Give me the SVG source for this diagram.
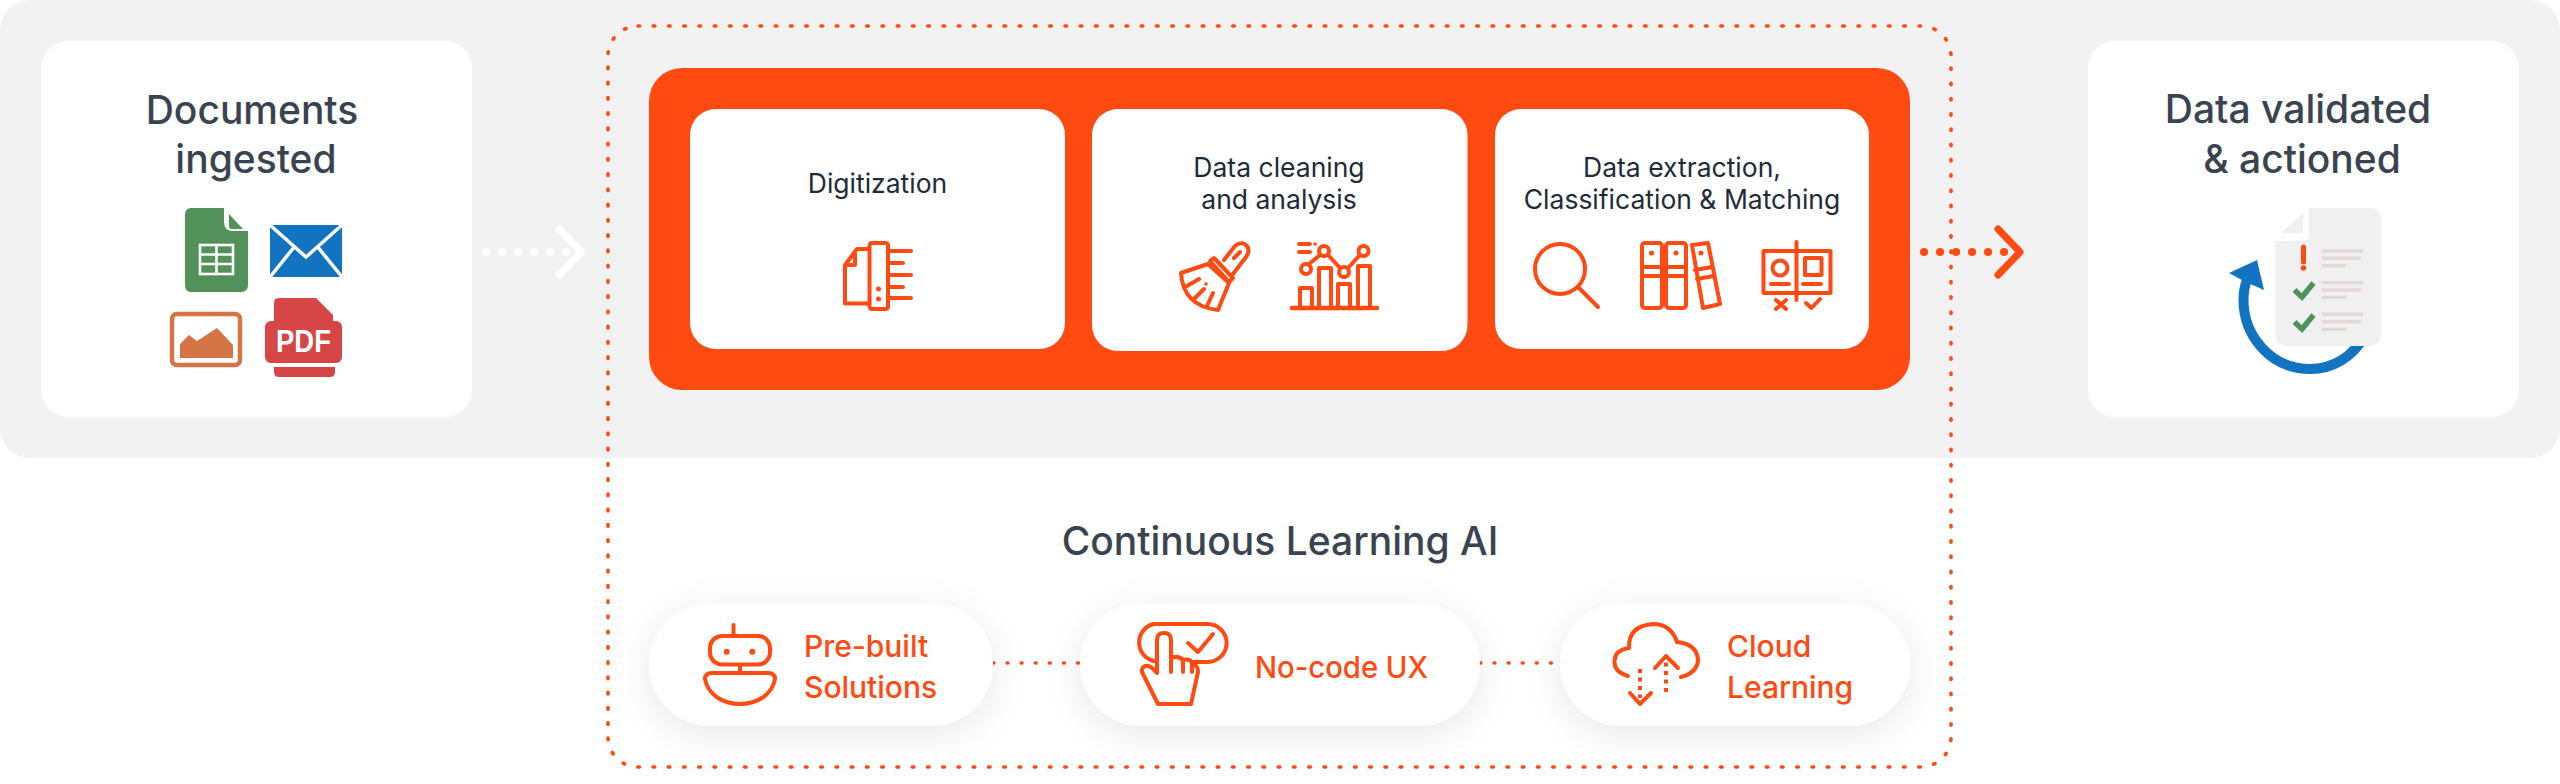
<svg xmlns="http://www.w3.org/2000/svg" width="2560" height="784" viewBox="0 0 2560 784">
<defs>
<filter id="soft" x="-30%" y="-50%" width="160%" height="200%"><feDropShadow dx="0" dy="8" stdDeviation="18" flood-color="#000" flood-opacity="0.09"/></filter>
</defs>
<style>
text{font-family:Inter,"Liberation Sans",sans-serif;text-anchor:middle}
.t{font-size:39px;font-weight:500;fill:#3a4350}
.s{font-size:26.500px;font-weight:400;fill:#1f2a37}
.p{font-size:30px;font-weight:500;fill:#ff4a12;text-anchor:start}
.card{fill:#fff}
.i{fill:none;stroke:#ff4a12;stroke-width:4;stroke-linecap:round;stroke-linejoin:round}
.i5{stroke-width:4.500}
.a{stroke-width:7}
.d{fill:#ff4a12}
.dot{fill:none;stroke:#ff4a12;stroke-linecap:round}
.gl{stroke:#e3d8d6;stroke-width:3.6;fill:none}
.ck{fill:none;stroke:#4f935a;stroke-width:5.500;stroke-linejoin:miter}
</style>
<rect id="band" x="0" y="0" width="2560" height="458" rx="30" fill="#f2f2f2"/>
<g id="learning-frame"><rect x="608" y="26" width="1343" height="741" rx="30" class="dot" stroke-width="3.6" stroke-dasharray="1.6 13.65"/></g>

<g id="connectors">
<path d="M486 252H570" fill="none" stroke="#fff" stroke-width="8" stroke-linecap="round" stroke-dasharray="0.1 15.9"/>
<path d="M559 229L581.500 252L559 275" fill="none" stroke="#fff" stroke-width="7" stroke-linecap="round" stroke-linejoin="round"/>
<path d="M1924 252H2008" class="dot" stroke-width="8" stroke-dasharray="0.1 15.9"/>
<path d="M1998 229L2020 252L1998 275" class="i a"/>
<path d="M993 663H1080" class="dot" stroke-width="3.6" stroke-dasharray="0.8 13.3"/>
<path d="M1480 663H1560" class="dot" stroke-width="3.6" stroke-dasharray="0.8 13.3"/>
</g>

<g id="documents-ingested">
<rect class="card" x="41" y="41" width="431" height="376" rx="27"/>
<text class="t" x="252" y="124">Documents</text>
<text class="t" x="256" y="173">ingested</text>
<path d="M191 208H224V222Q224 231 233 231H248V285Q248 292 241 292H191Q185 292 185 285V215Q185 208 191 208Z" fill="#52925a"/>
<path d="M229 214L243 229H232Q229 229 229 226Z" fill="#52925a"/>
<g fill="none" stroke="#fff" stroke-width="2.6"><rect x="200" y="245" width="33" height="29"/><path d="M216.500 245V274M200 254.500H233M200 264H233"/></g>
<path d="M270 225H342V277H270Z" fill="#1273c0"/>
<path d="M270 225L306 257L342 225M270 277L295 246M342 277L317 246" fill="none" stroke="#fff" stroke-width="3.500"/>
<rect x="172" y="314" width="68" height="51" rx="5" fill="none" stroke="#d57444" stroke-width="4.500"/>
<path d="M180 358V344L189 335L197 341L217 328L233 345V358Z" fill="#d57444"/>
<path d="M274 321V303Q274 298 279 298H316L333 315V321ZM274 367H335V372Q335 377 330 377H279Q274 377 274 372Z" fill="#d64646"/>
<rect x="265" y="321" width="77" height="42" rx="6" fill="#d64646"/>
<text x="303.500" y="352" fill="#fff" textLength="55" lengthAdjust="spacingAndGlyphs" style="font-size:31px;font-weight:700;font-family:'Liberation Sans',sans-serif">PDF</text>
</g>

<g id="processing">
<rect x="649" y="68" width="1261" height="322" rx="33" fill="#ff4a12"/>
</g>

<g id="digitization">
<rect class="card" x="690" y="109" width="375" height="240" rx="26"/>
<text class="s" x="877.500" y="193">Digitization</text>
<g class="i"><rect x="869.500" y="243" width="18.500" height="66" rx="2.500"/><path d="M869 249H857L845 265V303.500H869M855 253V265H845M888 251H911M888 263H903M888 275H911M888 287H903M888 298H911"/></g>
<circle class="d" cx="878.500" cy="289" r="2.500"/><circle class="d" cx="878.500" cy="299" r="2.500"/>
</g>

<g id="data-cleaning">
<rect class="card" x="1092" y="109" width="375.500" height="242" rx="26"/>
<text class="s" x="1279" y="177">Data cleaning</text>
<text class="s" x="1279" y="209">and analysis</text>
<g class="i"><path d="M1224 260L1235 246Q1241 241 1246 245Q1251 250 1246 257L1233 274"/><path d="M1210 261L1214 258L1233 278L1229 282Z"/><path d="M1181 273L1208 264L1229 283L1218 310Q1183 306 1181 273Z"/><path d="M1187 286L1199 279M1195 298L1204 289M1207 306L1213 293M1234 258L1240 252"/></g>
<circle class="d" cx="1206" cy="284" r="1.800"/>
</g>
<g id="chart">
<g class="i"><path d="M1292 308H1377" class="i5"/><path d="M1300 308V288H1312V308M1319 308V268H1331V308M1338 308V284H1350V308M1358 308V266H1370V308"/><path d="M1309 264L1320 255M1328 255L1340 268M1348 268L1360 255"/><circle cx="1306" cy="269" r="5"/><circle cx="1324" cy="251" r="5"/><circle cx="1344" cy="272" r="5"/><circle cx="1363.500" cy="251" r="5"/><path d="M1299 244H1310M1299 252H1310"/></g>
<circle class="d" cx="1315" cy="244" r="1.800"/>
</g>

<g id="data-extraction">
<rect class="card" x="1495" y="109" width="374" height="240" rx="26"/>
<text class="s" x="1682" y="177">Data extraction,</text>
<text class="s" x="1682" y="209">Classification &amp; Matching</text>
<g class="i"><circle cx="1560" cy="269" r="25"/><path d="M1578 287L1598 307"/></g>
<g class="i"><rect x="1642" y="243" width="20" height="65" rx="3"/><rect x="1666" y="243" width="20" height="65" rx="3"/><path d="M1642 267H1662M1642 276H1662M1666 267H1686M1666 276H1686"/><path d="M1692 245L1708 243L1720 304L1703 308Z"/><path d="M1695 270L1712 267M1697 279L1714 276"/>
<rect x="1763.500" y="251" width="67" height="42"/><path d="M1796.500 242V300M1771 284H1789M1803 284H1821"/><circle cx="1780" cy="268" r="7.500"/><rect x="1805" y="258" width="16.500" height="17"/><path d="M1776 300L1786 309M1786 300L1776 309M1806 303L1811.500 308L1820 299"/></g>
<circle class="d" cx="1651.500" cy="253" r="2.500"/><circle class="d" cx="1676" cy="253" r="2.500"/><circle class="d" cx="1701" cy="253" r="2.500"/>
</g>

<g id="data-validated">
<rect class="card" x="2088" y="41" width="431" height="376" rx="27"/>
<text class="t" x="2298" y="123">Data validated</text>
<text class="t" x="2302" y="173">&amp; actioned</text>
<path d="M2366 335C2350 360 2330 369 2310 369C2270 369 2243.500 335 2243.500 300C2243.500 292 2245 285 2247 280" fill="none" stroke="#1273c0" stroke-width="10"/>
<path d="M2257 260L2229 273L2240 279L2248 283L2264 290Z" fill="#1273c0"/>
<path d="M2309 208H2369Q2381 208 2381 220V334Q2381 346 2369 346H2288Q2275.500 346 2275.500 334V241H2303Q2309 241 2309 235Z" fill="#f0f0f0"/>
<path d="M2281 233L2303 213V233Z" fill="#f0f0f0"/>
<path d="M2303.500 247V262" stroke="#ff4a12" stroke-width="5" stroke-linecap="round"/><circle class="d" cx="2303.500" cy="268" r="2.800"/>
<path class="gl" d="M2322 251H2363M2322 258.300H2361M2322 265.700H2346M2322 282.700H2363M2322 290H2361M2322 297.300H2346M2322 314.300H2363M2322 321.700H2361M2322 329.300H2346"/>
<path class="ck" d="M2294.500 290L2302 297L2313.500 283"/><path class="ck" d="M2294.500 322L2302 329L2313.500 315"/>
</g>

<text class="t" x="1280" y="555">Continuous Learning AI</text>

<g id="pre-built">
<rect x="649" y="603" width="344" height="123" rx="61.500" fill="#fff" filter="url(#soft)"/>
<g class="i"><rect x="710" y="636" width="60" height="28.500" rx="12"/><path d="M733.500 625V636M740 665V673"/><path d="M712 673H768Q775 673 775 679C772 695 757 704 740 704C723 704 708 695 705 679Q705 673 712 673Z"/></g>
<circle class="d" cx="726.700" cy="651.700" r="3"/><circle class="d" cx="752.300" cy="651.700" r="3"/>
<text class="p" x="804" y="657">Pre-built</text>
<text class="p" x="804" y="698">Solutions</text>
</g>

<g id="no-code">
<rect x="1080" y="603" width="400" height="123" rx="61.500" fill="#fff" filter="url(#soft)"/>
<g class="i"><path d="M1154 661A19 19 0 0 1 1153.600 624H1207.600A19 19 0 0 1 1207.600 662H1192"/><path d="M1188 643L1198 652L1213 634"/><path d="M1158 704L1142 672Q1141 668 1145 666Q1150 664 1157 673V640Q1157 633 1164 633Q1171 633 1171 640V658Q1178 655 1183 660Q1192 658 1192 665Q1198 664 1198 672L1191 704Z"/><path d="M1171 658V672M1183 660V672M1192 665V672"/></g>
<text class="p" x="1255" y="678" textLength="173" lengthAdjust="spacingAndGlyphs">No-code UX</text>
</g>

<g id="cloud">
<rect x="1560" y="603" width="350" height="123" rx="61.500" fill="#fff" filter="url(#soft)"/>
<g class="i"><path d="M1628 676Q1614 672 1614.500 661Q1615 650 1629 648Q1628 626 1653 624Q1671 624 1677 642Q1697 644 1698 660Q1697 673 1681 677"/><path d="M1640 669V698M1666 692V660" stroke-dasharray="4 4.500" stroke-linecap="butt"/><path d="M1630 693L1640 704L1651 693M1655 668L1666 656L1678 668"/></g>
<text class="p" x="1727" y="657">Cloud</text>
<text class="p" x="1727" y="698">Learning</text>
</g>
</svg>
